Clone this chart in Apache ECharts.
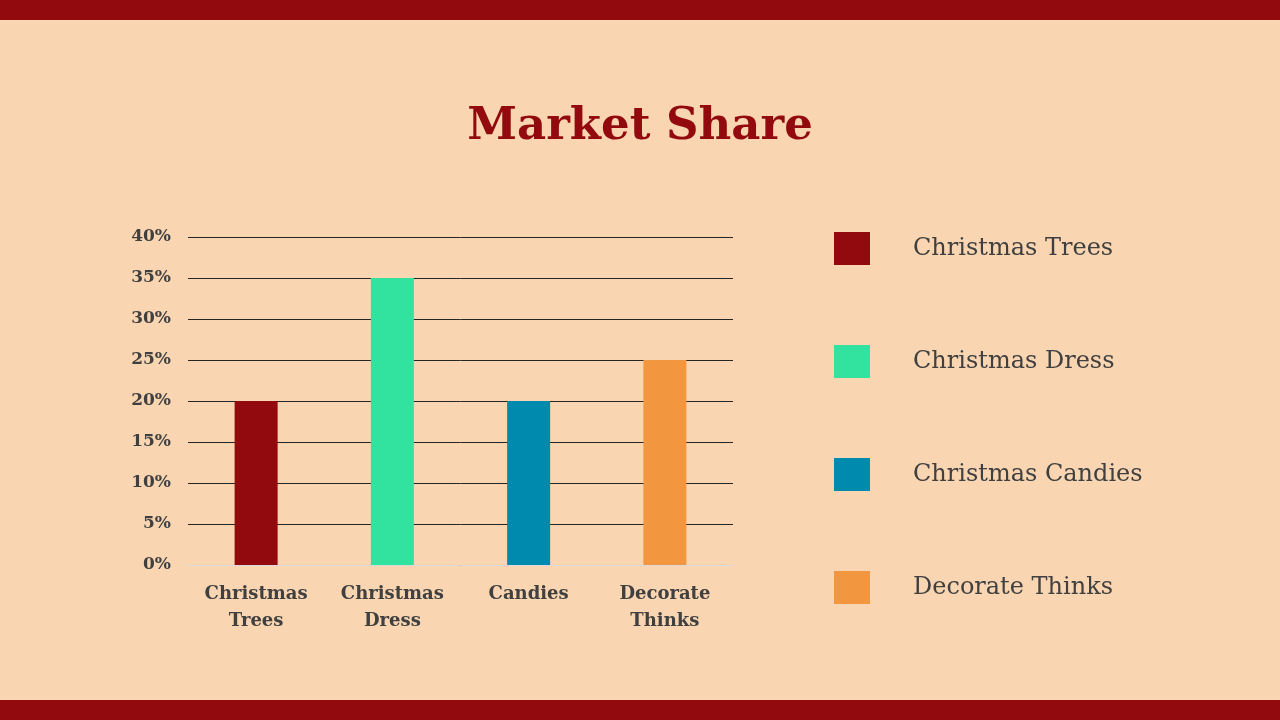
<!DOCTYPE html>
<html><head><meta charset="utf-8">
<script src="https://cdn.jsdelivr.net/npm/echarts@6/dist/echarts.min.js"></script>
<style>html,body{margin:0;padding:0;background:#F9D5B1;}#c{width:1280px;height:720px;}</style>
</head><body><div id="c"></div>
<script>
const categories = ['Christmas\nTrees','Christmas\nDress','Candies','Decorate\nThinks'];
const seriesNames = ['Christmas Trees','Christmas Dress','Christmas Candies','Decorate Thinks'];
const values = [0.20, 0.35, 0.20, 0.25];
const colors = ['#920A0E','#31E39F','#008BAE','#F2963F'];
const yTicks = [0,0.05,0.10,0.15,0.20,0.25,0.30,0.35,0.40];

const chart = echarts.init(document.getElementById('c'));
const series = seriesNames.map((n,i)=>({
  name:n, type:'bar', barWidth:43, barGap:'-100%',
  itemStyle:{color:colors[i]},
  data: categories.map((c,j)=> j===i ? values[i] : null)
}));
chart.setOption({
  backgroundColor:'#F9D5B1',
  animation:false,
  title:{text:'Market Share',left:'center',top:100,
    textStyle:{fontFamily:'DejaVu Serif',fontWeight:'bold',fontSize:45,color:'#920A0E'}},
  graphic:[
    {type:'rect',left:0,top:0,shape:{width:1280,height:20},style:{fill:'#920A0E'}},
    {type:'rect',left:0,top:700,shape:{width:1280,height:20},style:{fill:'#920A0E'}}
  ],
  legend:{orient:'vertical',left:834,top:232,padding:0,itemWidth:36,itemHeight:33,itemGap:80,icon:'rect',
    textStyle:{fontFamily:'DejaVu Serif',fontSize:24,color:'#404040',padding:[0,0,0,38]},
    data:seriesNames},
  grid:{left:188,right:547,top:237,bottom:155},
  xAxis:{type:'category',data:categories,
    axisLine:{lineStyle:{color:'#D9D9D9'}},axisTick:{show:false},
    axisLabel:{margin:16,fontFamily:'DejaVu Serif',fontWeight:'bold',fontSize:18,color:'#404040',lineHeight:27}},
  yAxis:{type:'value',min:0,max:0.4,interval:0.05,
    axisLine:{show:false},axisTick:{show:false},
    splitLine:{lineStyle:{color:'#262626',width:1}},
    axisLabel:{margin:17,fontFamily:'DejaVu Serif',fontWeight:'bold',fontSize:17,color:'#404040',
      formatter:v=>Math.round(v*100)+'%'}},
  series:series
});
</script></body></html>
